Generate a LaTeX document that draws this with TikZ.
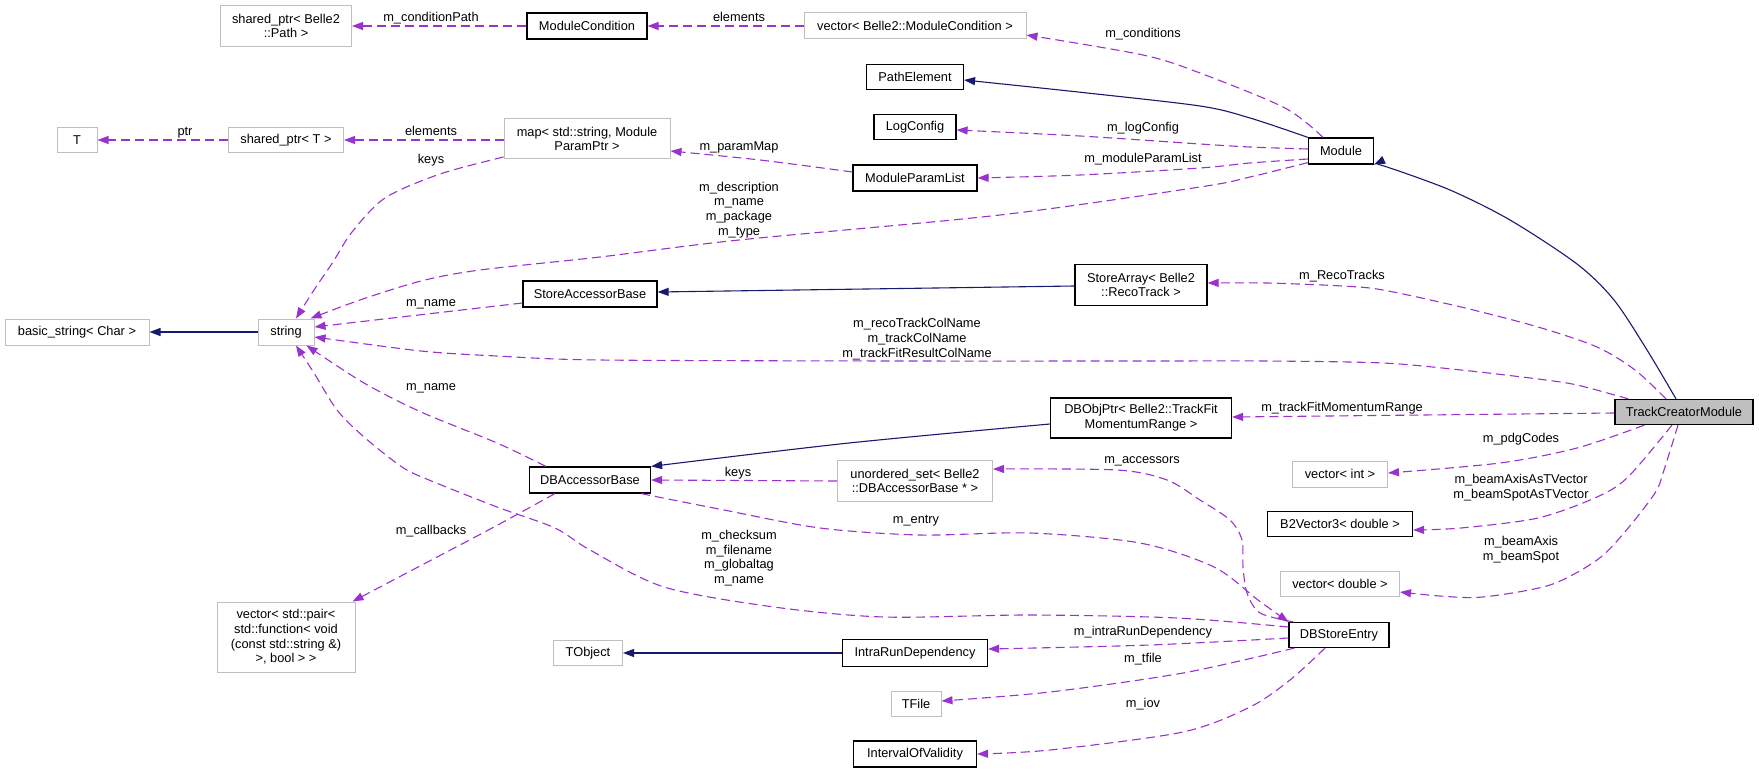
\documentclass[tikz,border=0pt]{standalone}
\usepackage{fontspec}
\setmainfont{Liberation Sans}
\usetikzlibrary{arrows.meta,calc}
\definecolor{purp}{HTML}{9A32CD}
\definecolor{navy}{HTML}{191970}
\definecolor{gborder}{HTML}{BFBFBF}
\definecolor{gfill}{HTML}{BFBFBF}
\begin{document}
\begin{tikzpicture}[x=1pt, y=-1pt,
  every node/.style={font=\fontsize{12.8}{14.7}\selectfont},
  sz/.style 2 args={minimum width=#1pt, minimum height=#2pt},
  box/.style={rectangle, inner sep=0pt, align=center},
  doc/.style={box, draw=black, fill=white, line width=1.2pt},
  undoc/.style={box, draw=gborder, fill=white, line width=1pt},
  cur/.style={box, draw=black, fill=gfill, line width=1.2pt},
  lbl/.style={inner sep=0pt, align=center},
  lbl1/.style={lbl, text height=9.3pt, text depth=2.7pt},
  usage/.style={draw=purp, line width=1.1pt, dash pattern=on 9pt off 5pt, -{Triangle[length=11pt,width=8pt]}},
  inh/.style={draw=navy, line width=1.1pt, -{Triangle[length=11pt,width=8pt]}}
]
\useasboundingbox[fill=white] (0,0) rectangle (1759,773);

% ---------- nodes ----------
\node[undoc, sz={40}{25}] (T) at (77,140) {T};
\node[undoc, sz={144}{26}] (bstr) at (77,332) {basic\_string< Char >};
\node[undoc, sz={131}{41}] (sptrPath) at (286,26) {shared\_ptr< Belle2\\::Path >};
\node[undoc, sz={115}{25}] (sptrT) at (286,140) {shared\_ptr< T >};
\node[undoc, sz={56}{26}] (str) at (286,332) {string};
\node[undoc, sz={138}{70}] (vpair) at (286,637) {vector< std::pair<\\ std::function< void\\ (const std::string \&)\\ >, bool > >};
\node[doc, sz={120}{26}] (modcond) at (587,26) {ModuleCondition};
\node[undoc, sz={166}{40}] (map) at (587,139) {map< std::string, Module\\ParamPtr >};
\node[doc, sz={134}{26}] (sab) at (590,294) {StoreAccessorBase};
\node[doc, sz={121}{26}] (dbab) at (590,480) {DBAccessorBase};
\node[undoc, sz={69}{25}] (tobj) at (588,653) {TObject};
\node[undoc, sz={222}{26}] (vmc) at (915,26) {vector< Belle2::ModuleCondition >};
\node[doc, sz={97}{25}] (pathel) at (915,77) {PathElement};
\node[doc, sz={82}{25}] (logc) at (915,127) {LogConfig};
\node[doc, sz={124}{26}] (mpl) at (915,178) {ModuleParamList};
\node[undoc, sz={155}{41}] (uset) at (915,481) {unordered\_set< Belle2\\::DBAccessorBase * >};
\node[doc, sz={145}{27}] (ird) at (915,653) {IntraRunDependency};
\node[undoc, sz={50}{25}] (tfile) at (916,704) {TFile};
\node[doc, sz={123}{26}] (iov) at (915,754) {IntervalOfValidity};
\node[doc, sz={132}{41}] (sarr) at (1141,285) {StoreArray< Belle2\\::RecoTrack >};
\node[doc, sz={181}{40}] (dbobj) at (1141,418) {DBObjPtr< Belle2::TrackFit\\MomentumRange >};
\node[doc, sz={65}{26}] (module) at (1341,151) {Module};
\node[undoc, sz={95}{26}] (vint) at (1340,474) {vector< int >};
\node[doc, sz={145}{25}] (b2v) at (1340,524) {B2Vector3< double >};
\node[undoc, sz={119}{25}] (vdbl) at (1340,584) {vector< double >};
\node[doc, sz={100}{25}] (dbse) at (1339,635) {DBStoreEntry};
\node[cur, sz={138}{25}] (tcm) at (1684,412) {TrackCreatorModule};

% ---------- labels ----------
\node[lbl1] (lcp) at (431,18) {m\_conditionPath};
\node[lbl1] (lel1) at (739,18) {elements};
\node[lbl1] (lcond) at (1143,34) {m\_conditions};
\node[lbl1] (lptr) at (185,132) {ptr};
\node[lbl1] (lel2) at (431,132) {elements};
\node[lbl1] (lkeys1) at (431,160) {keys};
\node[lbl1] (lpm) at (739,147) {m\_paramMap};
\node[lbl1] (llog) at (1143,128) {m\_logConfig};
\node[lbl1] (lmpl) at (1143,159) {m\_moduleParamList};
\node[lbl] (ldesc) at (739,210) {m\_description\\m\_name\\m\_package\\m\_type};
\node[lbl1] (lname1) at (431,303) {m\_name};
\node[lbl1] (lreco) at (1342,276) {m\_RecoTracks};
\node[lbl] (lcol) at (917,339) {m\_recoTrackColName\\m\_trackColName\\m\_trackFitResultColName};
\node[lbl1] (lname2) at (431,387) {m\_name};
\node[lbl1] (ltfmr) at (1342,408) {m\_trackFitMomentumRange};
\node[lbl1] (lpdg) at (1521,439) {m\_pdgCodes};
\node[lbl1] (lacc) at (1142,460) {m\_accessors};
\node[lbl1] (lkeys2) at (738,473) {keys};
\node[lbl] (lbatv) at (1521,488) {m\_beamAxisAsTVector\\m\_beamSpotAsTVector};
\node[lbl1] (lentry) at (916,520) {m\_entry};
\node[lbl1] (lcb) at (431,531) {m\_callbacks};
\node[lbl] (lchk) at (739,558) {m\_checksum\\m\_filename\\m\_globaltag\\m\_name};
\node[lbl] (lba) at (1521,550) {m\_beamAxis\\m\_beamSpot};
\node[lbl1] (lird) at (1143,632) {m\_intraRunDependency};
\node[lbl1] (ltf) at (1143,659) {m\_tfile};
\node[lbl1] (liov) at (1143,704) {m\_iov};

% ---------- inheritance (navy) ----------
\draw[inh] plot[smooth] coordinates {(module.north west) (1250,118) (1200,106) (1078,92) ($(pathel.east)+(0,3)$)};
\draw[inh] plot[smooth] coordinates {($(tcm.north)+(-8,0)$) (1647,350) (1614,300) (1577,264) (1510,220) (1450,190) (1387,167) (module.south east)};
\draw[inh] (str.west) -- (bstr.east);
\draw[inh] ($(sarr.west)+(0,1)$) -- ($(sab.east)+(0,-2)$);
\draw[inh] plot[smooth] coordinates {($(dbobj.west)+(0,6)$) (849,443) (dbab.north east)};
\draw[inh] (ird.west) -- (tobj.east);

% ---------- usage (purple dashed) ----------
\draw[usage] (modcond.west) -- (sptrPath.east);
\draw[usage] (vmc.west) -- (modcond.east);
\draw[usage] plot[smooth] coordinates {($(module.north)+(-18,0)$) (1285,108) (1200,73) (1143,55) ($(vmc.east)+(0,9)$)};
\draw[usage] (sptrT.west) -- (T.east);
\draw[usage] (map.west |- sptrT.east) -- (sptrT.east);
\draw[usage] plot[smooth] coordinates {($(map.west)+(0,18)$) (440,174) (385,198) (352,232) (333,262) (314,290) ($(str.north)+(10,0)$)};
\draw[usage] plot[smooth] coordinates {($(mpl.west)+(0,-6)$) (760,160) ($(map.east)+(0,12)$)};
\draw[usage] plot[smooth] coordinates {($(module.west)+(0,-2)$) (1250,147) (1200,144) (1080,136) ($(logc.east)+(0,3)$)};
\draw[usage] plot[smooth] coordinates {($(module.west)+(0,8)$) (1250,163) (1200,168) (1080,175) (mpl.east)};
\draw[usage] plot[smooth] coordinates {($(module.south west)+(0,-2)$) (1250,177) (1200,187) (1000,215) (739,240) (600,257) (480,270) (421,281) (360,300) ($(str.north east)+(-4,0)$)};
\draw[usage] ($(sab.west)+(0,9)$) -- ($(str.east)+(0,-5)$);
\draw[usage] plot[smooth] coordinates {($(tcm.north)+(-18,0)$) (1635,370) (1597,347) (1538,327) (1461,307) (1383,290) (1342,286) (1267,283) ($(sarr.east)+(0,-2)$)};
\draw[usage] plot[smooth] coordinates {($(tcm.north west)+(14,0)$) (1577,385) (1538,379) (1461,370) (1383,363) (1267,361) (1150,361) (900,361) (600,360) (497,356) (421,351) ($(str.east)+(0,5)$)};
\draw[usage] plot[smooth] coordinates {($(dbab.north west)+(17,0)$) (497,443) (421,412) (364,383) ($(str.south east)+(-8,0)$)};
\draw[usage] ($(tcm.west)+(0,1)$) -- ($(dbobj.east)+(0,-1)$);
\draw[usage] plot[smooth] coordinates {($(tcm.south west)+(30,0)$) (1577,448) (1500,463) ($(vint.east)+(0,-1)$)};
\draw[usage] plot[smooth] coordinates {($(dbse.north west)+(5,0)$) (1260,613) (1247,593) (1243,567) (1242,540) (1230,520) (1200,500) (1167,480) (1117,470) ($(uset.east)+(0,-12)$)};
\draw[usage] (uset.west) -- (dbab.east);
\draw[usage] plot[smooth] coordinates {($(tcm.south)+(-12,0)$) (1628,477) (1597,497) (1538,518) (1461,528) ($(b2v.east)+(0,6)$)};
\draw[usage] plot[smooth] coordinates {($(dbab.south east)+(-10,0)$) (724,510) (820,528) (920,535) (1030,533) (1140,543) (1214,567) (1258,600) (dbse.north west)};
\draw[usage] plot[smooth] coordinates {($(dbab.south west)+(26,0)$) (494,527) (420,566) ($(vpair.north east)+(-3,0)$)};
\draw[usage] plot[smooth] coordinates {($(dbse.west)+(0,-8)$) (1177,618) (1030,615) (884,617) (774,607) (664,587) (590,550) (555,528) (497,507) (429,480) (402,467) (364,437) (337,410) (314,373) ($(str.south)+(10,0)$)};
\draw[usage] plot[smooth] coordinates {($(tcm.south)+(-6,0)$) (1664,470) (1655,493) (1624,533) (1597,560) (1550,585) (1483,597) (1440,596) ($(vdbl.east)+(0,8)$)};
\draw[usage] plot[smooth] coordinates {($(dbse.west)+(0,3)$) (1150,645) ($(ird.east)+(0,-4)$)};
\draw[usage] plot[smooth] coordinates {($(dbse.south west)+(6,0)$) (1183,673) (1050,692) ($(tfile.east)+(0,-3)$)};
\draw[usage] plot[smooth] coordinates {($(dbse.south)+(-14,0)$) (1290,680) (1250,707) (1183,732) (1050,750) (iov.east)};
\end{tikzpicture}
\end{document}
